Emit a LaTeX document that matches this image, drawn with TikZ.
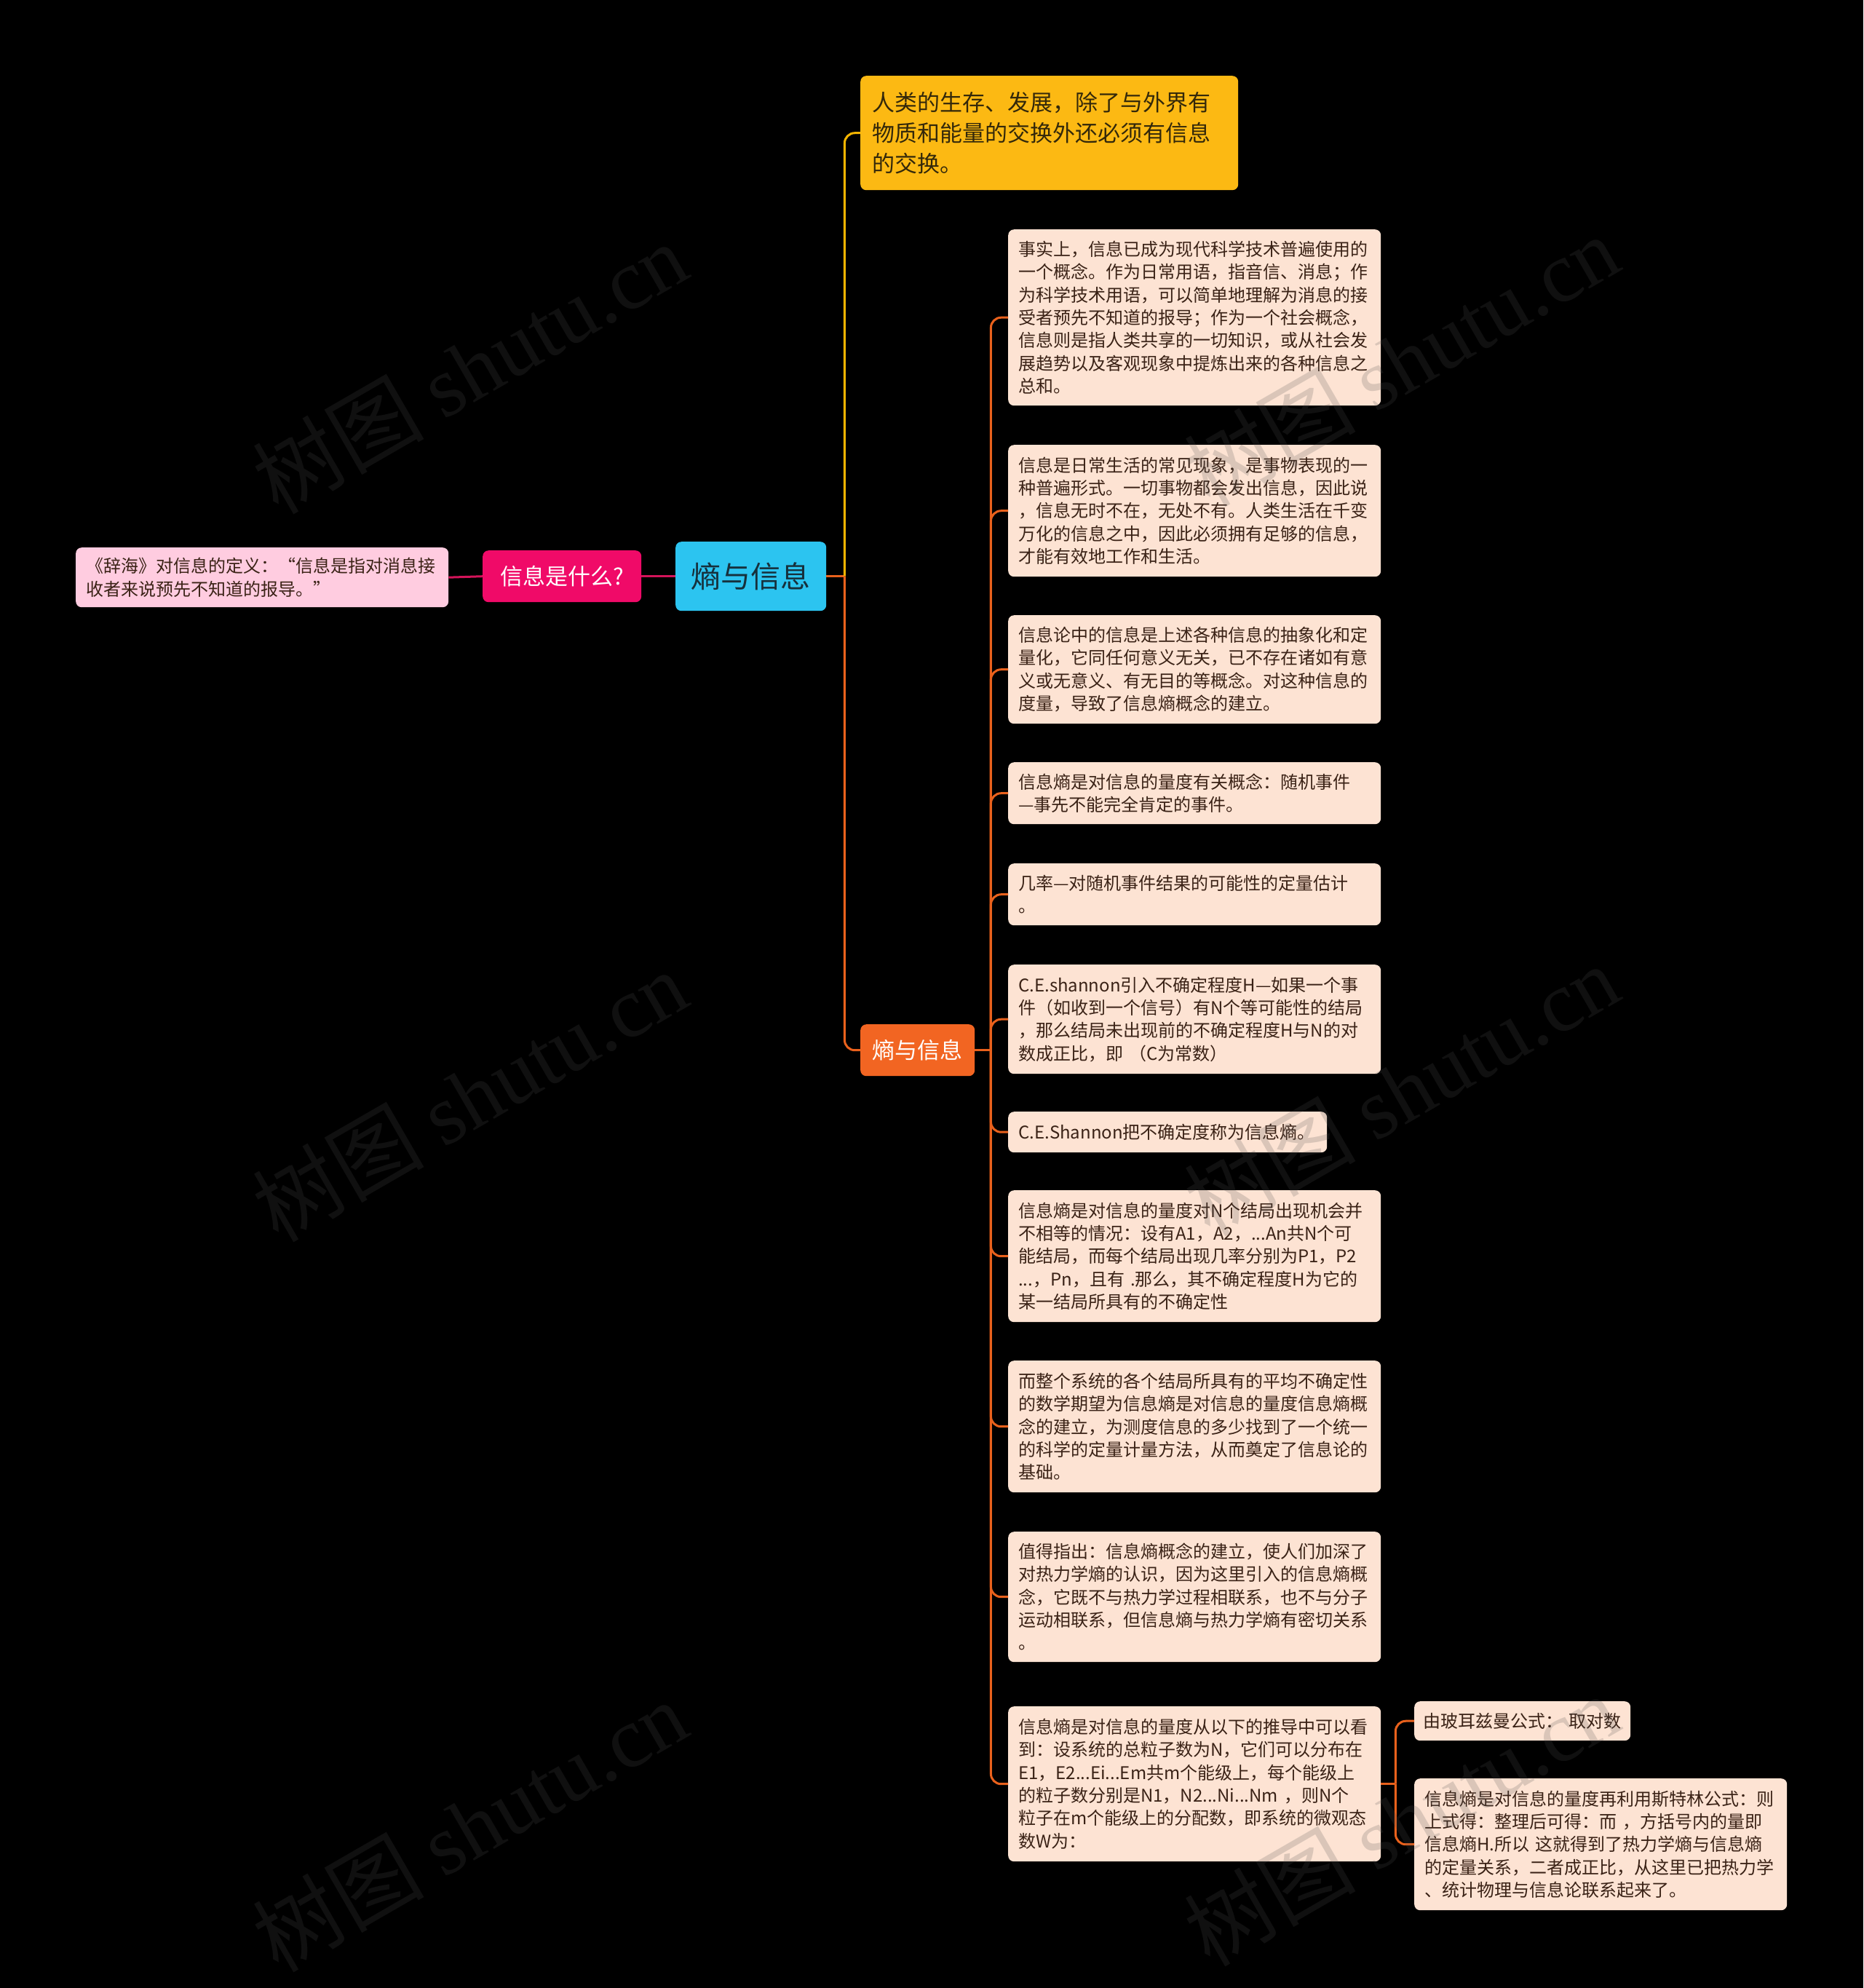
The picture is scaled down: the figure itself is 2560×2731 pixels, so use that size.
\documentclass[tikz,border=0pt]{standalone}
\usepackage{fontspec}
\setmainfont{Noto Sans CJK SC}
\newfontfamily\wmlatin{Liberation Serif}
\definecolor{rootfill}{HTML}{2CC4F0}
\definecolor{roottext}{HTML}{16303C}
\definecolor{pinkfill}{HTML}{F00A68}
\definecolor{leftfill}{HTML}{FFCCE0}
\definecolor{yelfill}{HTML}{FCB913}
\definecolor{yeltext}{HTML}{33280A}
\definecolor{entfill}{HTML}{F26522}
\definecolor{leaffill}{HTML}{FDE3D3}
\definecolor{leaftext}{HTML}{3A2216}
\definecolor{lineO}{HTML}{E9611C}
\definecolor{lineY}{HTML}{F4B400}
\definecolor{lineM}{HTML}{D4145A}
\definecolor{wmgray}{HTML}{505050}
\tikzset{
  box/.style={rounded corners=8pt, inner xsep=14pt, inner ysep=0pt, align=left, anchor=north west},
  leaf/.style={box, fill=leaffill, text=leaftext, font=\fontsize{24}{31.3}\selectfont, text width=484pt},
  olink/.style={draw=lineO, line width=3pt},
  ylink/.style={draw=lineY, line width=3pt},
  mlink/.style={draw=lineM, line width=3pt},
  elbow/.style={rounded corners=14pt},
  wm/.style={rotate=30, text=wmgray, opacity=0.2, font=\fontsize{118}{118}\selectfont, inner sep=0pt}
}
\begin{document}
\begin{tikzpicture}[x=1pt,y=-1pt]
\fill[black] (0,0) rectangle (2560,2731);
\useasboundingbox (0,0) rectangle (2560,2731);

% main nodes
\node[box, fill=rootfill, text=roottext, font=\fontsize{41}{48}\selectfont, align=center, inner xsep=0pt, minimum width=207pt, minimum height=95pt] (root) at (928,744) {熵与信息};
\node[box, fill=pinkfill, text=white, font=\fontsize{31}{38}\selectfont, align=center, inner xsep=0pt, minimum width=218pt, minimum height=71pt] (pink) at (663,756) {信息是什么?};
\node[box, fill=leftfill, text=leaftext, font=\fontsize{24}{31.3}\selectfont, text width=484pt, minimum height=82pt] (left) at (104,752) {《辞海》对信息的定义：“信息是指对消息接\\收者来说预先不知道的报导。”};
\node[box, fill=yelfill, text=yeltext, font=\fontsize{31}{41.8}\selectfont, inner xsep=16pt, text width=487pt, minimum height=157pt] (yel) at (1182,104) {人类的生存、发展，除了与外界有\\物质和能量的交换外还必须有信息\\的交换。};
\node[box, fill=entfill, text=white, font=\fontsize{31}{38}\selectfont, align=center, inner xsep=0pt, minimum width=157pt, minimum height=71pt] (ent) at (1182,1407) {熵与信息};

% leaves
\node[leaf, minimum height=242pt] (l1) at (1385,315) {事实上，信息已成为现代科学技术普遍使用的\\一个概念。作为日常用语，指音信、消息；作\\为科学技术用语，可以简单地理解为消息的接\\受者预先不知道的报导；作为一个社会概念，\\信息则是指人类共享的一切知识，或从社会发\\展趋势以及客观现象中提炼出来的各种信息之\\总和。};
\node[leaf, minimum height=181pt] (l2) at (1385,611) {信息是日常生活的常见现象，是事物表现的一\\种普遍形式。一切事物都会发出信息，因此说\\，信息无时不在，无处不有。人类生活在千变\\万化的信息之中，因此必须拥有足够的信息，\\才能有效地工作和生活。};
\node[leaf, minimum height=149pt] (l3) at (1385,845) {信息论中的信息是上述各种信息的抽象化和定\\量化，它同任何意义无关，已不存在诸如有意\\义或无意义、有无目的等概念。对这种信息的\\度量，导致了信息熵概念的建立。};
\node[leaf, minimum height=85pt] (l4) at (1385,1047) {信息熵是对信息的量度有关概念：随机事件\\—事先不能完全肯定的事件。};
\node[leaf, minimum height=85pt] (l5) at (1385,1186) {几率—对随机事件结果的可能性的定量估计\\。};
\node[leaf, minimum height=150pt] (l6) at (1385,1325) {C.E.shannon引入不确定程度H—如果一个事\\件（如收到一个信号）有N个等可能性的结局\\，那么结局未出现前的不确定程度H与N的对\\数成正比，即 （C为常数）};
\node[box, fill=leaffill, text=leaftext, font=\fontsize{24}{31.3}\selectfont, text width=410pt, minimum height=56pt] (l7) at (1385,1527) {C.E.Shannon把不确定度称为信息熵。};
\node[leaf, minimum height=181pt] (l8) at (1385,1635) {信息熵是对信息的量度对N个结局出现机会并\\不相等的情况：设有A1，A2，...An共N个可\\能结局，而每个结局出现几率分别为P1，P2\\...，Pn，且有 .那么，其不确定程度H为它的\\某一结局所具有的不确定性};
\node[leaf, minimum height=181pt] (l9) at (1385,1869) {而整个系统的各个结局所具有的平均不确定性\\的数学期望为信息熵是对信息的量度信息熵概\\念的建立，为测度信息的多少找到了一个统一\\的科学的定量计量方法，从而奠定了信息论的\\基础。};
\node[leaf, minimum height=179pt] (l10) at (1385,2104) {值得指出：信息熵概念的建立，使人们加深了\\对热力学熵的认识，因为这里引入的信息熵概\\念，它既不与热力学过程相联系，也不与分子\\运动相联系，但信息熵与热力学熵有密切关系\\。};
\node[leaf, minimum height=213pt] (l11) at (1385,2344) {信息熵是对信息的量度从以下的推导中可以看\\到：设系统的总粒子数为N，它们可以分布在\\E1，E2...Ei...Em共m个能级上，每个能级上\\的粒子数分别是N1，N2...Ni...Nm ，则N个\\粒子在m个能级上的分配数，即系统的微观态\\数W为：};

% sub leaves
\node[box, fill=leaffill, text=leaftext, font=\fontsize{24}{31.3}\selectfont, inner xsep=12pt, text width=273pt, minimum height=54pt] (sa) at (1943,2337) {\mbox{由玻耳兹曼公式：~取对数}};
\node[leaf, minimum height=181pt] (sb) at (1943,2443) {信息熵是对信息的量度再利用斯特林公式：则\\上式得：整理后可得：而 ，方括号内的量即\\信息熵H.所以 这就得到了热力学熵与信息熵\\的定量关系，二者成正比，从这里已把热力学\\、统计物理与信息论联系起来了。};

% connectors
\draw[mlink] (root.west) -- (pink.east);
\draw[mlink] (pink.west) -- (left.east);
\draw[olink] (root.east) -- ++(25,0) coordinate (jr);
\draw[ylink, elbow] (jr) |- (yel.west);
\draw[olink, elbow] (jr) |- (ent.west);
\draw[olink] (ent.east) -- ++(22,0) coordinate (je);
\foreach \i in {1,...,11} {
  \draw[olink, elbow] (je) |- (l\i.west);
}
\draw[olink] (l11.east) -- ++(20,0) coordinate (js);
\draw[olink, elbow] (js) |- (sa.west);
\draw[olink, elbow] (js) |- (sb.west);

% watermarks
\node[wm] (wm1) at (645,505) {树图 {\wmlatin shutu.cn}};
\node[wm] (wm2) at (645,1505) {树图 {\wmlatin shutu.cn}};
\node[wm] (wm3) at (645,2508) {树图 {\wmlatin shutu.cn}};
\node[wm] (wm4) at (1925,495) {树图 {\wmlatin shutu.cn}};
\node[wm] (wm5) at (1925,1497) {树图 {\wmlatin shutu.cn}};
\node[wm] (wm6) at (1925,2500) {树图 {\wmlatin shutu.cn}};
\end{tikzpicture}
\end{document}
